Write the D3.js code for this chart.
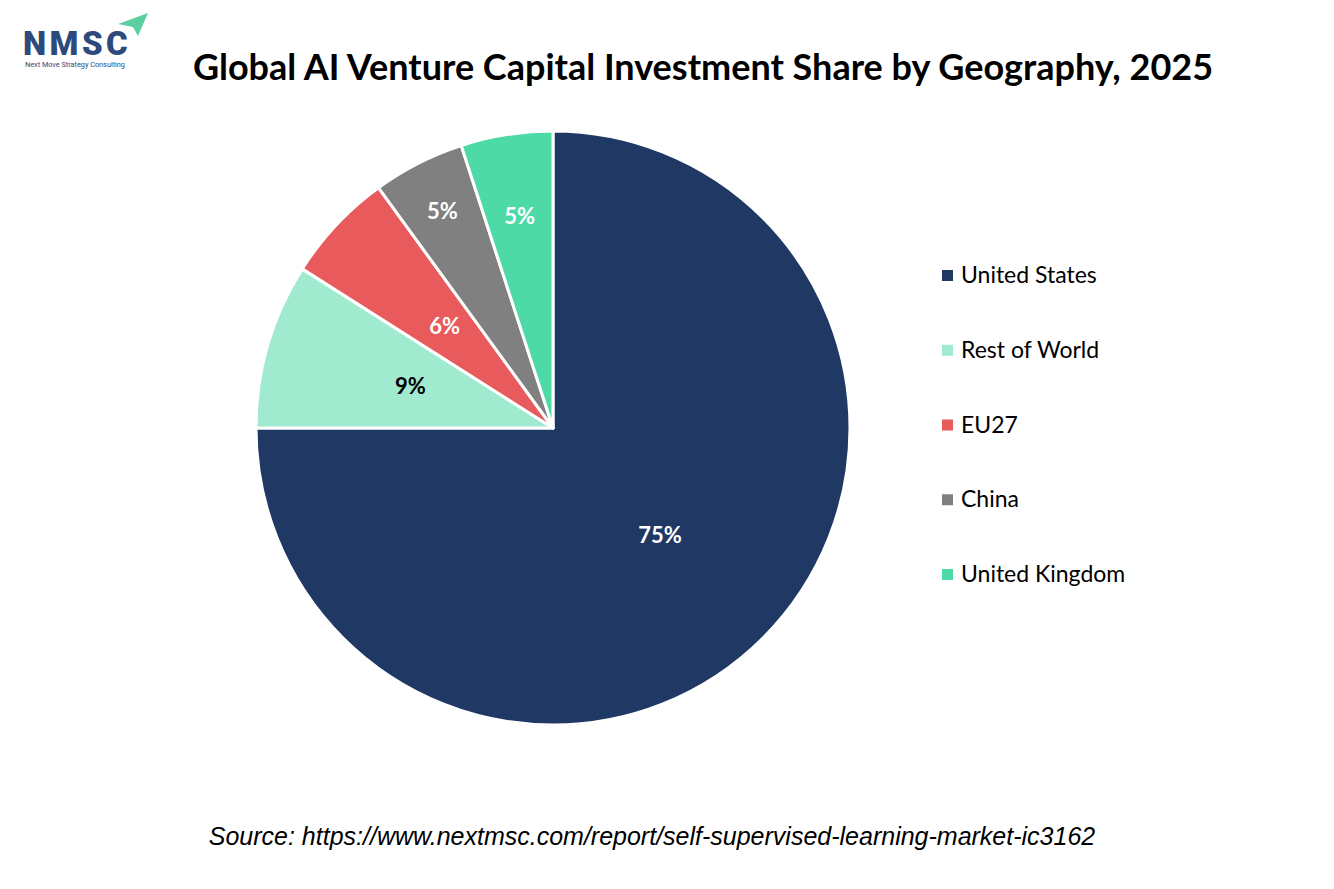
<!DOCTYPE html>
<html>
<head>
<meta charset="utf-8">
<script src="https://cdn.jsdelivr.net/npm/d3@7"></script>
<style>
  body { margin: 0; background: #fff; }
  svg { display: block; }
</style>
</head>
<body>
<div id="chart"></div>
<script>
	// data
	const regions = ['United States', 'Rest of World', 'EU27', 'China', 'United Kingdom'];
	const shares = [75, 9, 6, 5, 5];
	const sliceColors = ['#203864', '#A0EACF', '#E85A5B', '#808080', '#4DDAA7'];
	const labelColors = ['#fff', '#000', '#fff', '#fff', '#fff'];
	// label distance from centre, as a fraction of radius (Excel best-fit look)
	const labelRadius = [0.51, 0.5, 0.5, 0.82, 0.72];

	const width = 1334;
	const height = 889;
	const cx = 553;
	const cy = 428;
	const radius = 297;

	const svg = d3.select('#chart').append('svg')
		.attr('width', width)
		.attr('height', height);

	// logo
	const logo = svg.append('g');
	logo.append('path')
		.attr('d', 'M118,24 L148,13 L138,36 L133,27 Z')
		.style('fill', '#5ccfa0');
	logo.append('text')
		.attr('x', 23)
		.attr('y', 55)
		.style('font-family', 'Roboto, sans-serif')
		.style('font-weight', 900)
		.style('font-size', '33px')
		.style('letter-spacing', '3.4px')
		.style('fill', '#2e4a7d')
		.text('NMSC');
	logo.append('text')
		.attr('x', 25)
		.attr('y', 67)
		.style('font-family', 'Roboto, sans-serif')
		.style('font-size', '7.3px')
		.style('fill', '#2e4a7d')
		.text('Next Move Strategy Consulting');

	// title
	svg.append('text')
		.attr('x', 703)
		.attr('y', 80)
		.attr('text-anchor', 'middle')
		.style('font-family', 'Lato, "Open Sans", sans-serif')
		.style('font-weight', 'bold')
		.style('font-size', '36px')
		.style('fill', '#000')
		.text('Global AI Venture Capital Investment Share by Geography, 2025');

	// pie
	const pie = d3.pie().sort(null).value(d => d.value);
	const arc = d3.arc().innerRadius(0).outerRadius(radius);
	const data = regions.map((r, i) => ({ name: r, value: shares[i], i }));

	const chart = svg.append('g')
		.attr('transform', `translate(${cx}, ${cy})`);

	const arcs = chart.selectAll('.arc')
		.data(pie(data))
		.enter()
		.append('g')
		.attr('class', 'arc');

	arcs.append('path')
		.attr('d', arc)
		.style('fill', d => sliceColors[d.data.i])
		.style('stroke', '#fff')
		.style('stroke-width', 3)
		.style('stroke-linejoin', 'round');

	arcs.append('text')
		.attr('transform', d => {
			const r = radius * labelRadius[d.data.i];
			const c = d3.arc().innerRadius(r).outerRadius(r).centroid(d);
			return `translate(${c})`;
		})
		.attr('text-anchor', 'middle')
		.attr('dy', '0.35em')
		.style('font-family', 'Lato, "Open Sans", sans-serif')
		.style('font-weight', 'bold')
		.style('font-size', '22px')
		.style('fill', d => labelColors[d.data.i])
		.text(d => `${d.data.value}%`);

	// legend
	const legendY = d3.scalePoint()
		.domain(regions)
		.range([275, 574]);

	const legend = svg.append('g');
	const items = legend.selectAll('.item')
		.data(regions)
		.enter()
		.append('g')
		.attr('class', 'item')
		.attr('transform', d => `translate(942, ${legendY(d)})`);

	items.append('rect')
		.attr('x', 0)
		.attr('y', -5)
		.attr('width', 11)
		.attr('height', 11)
		.style('fill', (d, i) => sliceColors[i]);

	items.append('text')
		.attr('x', 19)
		.attr('dy', '0.35em')
		.style('font-family', 'Lato, "Open Sans", sans-serif')
		.style('font-size', '23px')
		.style('fill', '#000')
		.text(d => d);

	// source
	svg.append('text')
		.attr('x', 652)
		.attr('y', 845)
		.attr('text-anchor', 'middle')
		.style('font-family', '"Liberation Sans", Arial, sans-serif')
		.style('font-style', 'italic')
		.style('font-size', '25px')
		.style('fill', '#000')
		.text('Source: https://www.nextmsc.com/report/self-supervised-learning-market-ic3162');
</script>
</body>
</html>
